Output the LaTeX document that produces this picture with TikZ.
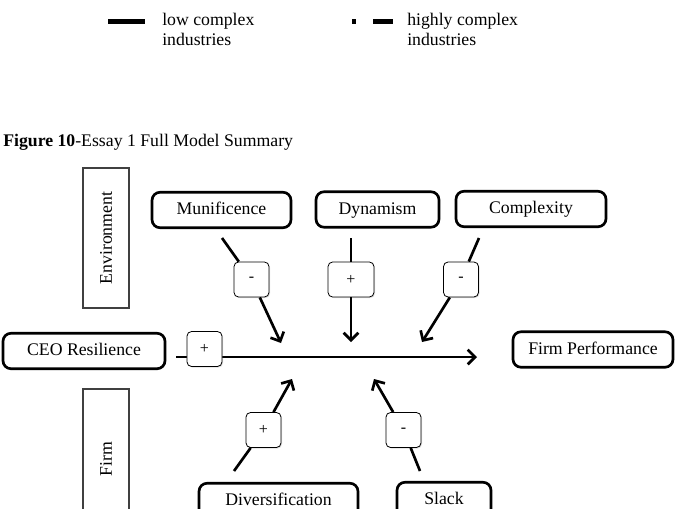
\documentclass[tikz,border=0pt]{standalone}
\usepackage{fontspec}
\setmainfont{Liberation Serif}
\usetikzlibrary{arrows.meta,positioning,shadows}
\tikzset{factor/.style={draw, line width=2pt, rounded corners=6pt, inner sep=2pt, minimum height=26.6pt, text height=0.74em, text depth=0pt}}
\tikzstyle{sgn}=[draw, line width=0.6pt, rounded corners=3.5pt, fill=white, minimum width=26.3pt, minimum height=26.3pt, inner sep=0pt, font=\fontsize{12}{14}\selectfont, drop shadow={opacity=0.25, shadow xshift=0.8pt, shadow yshift=-0.8pt}]
\tikzstyle{lvl}=[draw=black!75, line width=0.8pt, minimum width=34.5pt, minimum height=105pt, inner sep=0pt]
\tikzstyle{link}=[line width=2pt]
\tikzstyle{legtext}=[align=left, inner sep=0pt, font=\fontsize{13.3}{15}\selectfont]

\begin{document}
\begin{tikzpicture}[x=0.75pt, y=-0.75pt, >={Straight Barb[length=5.5pt,width=11pt]}, font=\fontsize{13.3}{15}\selectfont]
\clip (0,0) rectangle (678,508);

% legend
\coordinate (lowa) at (108,21.5);
\coordinate (lowb) at (145,21.5);
\draw[line width=3.6pt] (lowa) -- (lowb);
\node[legtext, anchor=base west] (lowtxt) at (162,45) {low complex\\industries};
\coordinate (higha) at (352,21.5);
\coordinate (highb) at (393,21.5);
\draw[line width=3.6pt, dash pattern=on 3pt off 12.75pt on 15pt] (higha) -- (highb);
\node[legtext, anchor=base west] (hightxt) at (407,45) {highly complex\\industries};

\node[anchor=base west, inner sep=0pt] (cap) at (3,146) {\textbf{Figure 10}-Essay 1 Full Model Summary};

% levels
\node[lvl] (env) at (106,238) {\rotatebox{90}{Environment}};
\node[lvl] (firm) at (106,459) {\rotatebox{90}{Firm}};

% factors
\node[factor, minimum width=104.2pt] (mun) at (221.5,210) {Munificence};
\node[factor, minimum width=92.2pt] (dyn) at (377.5,209.5) {Dynamism};
\node[factor, minimum width=112.5pt] (cpx) at (531,209) {Complexity};
\node[factor, minimum width=121.5pt] (ceo) at (84,351) {CEO Resilience};
\node[factor, minimum width=120pt] (perf) at (593,349.5) {Firm Performance};
\node[factor, minimum width=119.2pt] (div) at (278.5,501) {Diversification};
\node[factor, minimum width=70.5pt] (slk) at (444,500) {Slack};

% signs
\node[sgn] (smun) at (251.5,279.5) {-};
\node[sgn, minimum width=34.5pt] (sdyn) at (351,279.5) {+};
\node[sgn] (scpx) at (461,279.5) {-};
\node[sgn] (sdiv) at (263.5,430) {+};
\node[sgn] (sslk) at (403.5,430) {-};

% free ends
\coordinate (mtop) at (222,238);
\coordinate (mend) at (281,343);
\coordinate (dtop) at (351,238);
\coordinate (dend) at (351,342);
\coordinate (ctop) at (479,238);
\coordinate (cend) at (422,342);
\coordinate (dvbot) at (234,471);
\coordinate (dvend) at (292,379);
\coordinate (slbot) at (420,471);
\coordinate (slend) at (374,379);
\coordinate (rstart) at (176,357);
\coordinate (rend) at (477,357);

\draw[link] (mtop) -- (smun);
\draw[link,->] (smun) -- (mend);
\draw[link] (dtop) -- (sdyn);
\draw[link,->] (sdyn) -- (dend);
\draw[link] (ctop) -- (scpx);
\draw[link,->] (scpx) -- (cend);
\draw[link] (dvbot) -- (sdiv);
\draw[link,->] (sdiv) -- (dvend);
\draw[link] (slbot) -- (sslk);
\draw[link,->] (sslk) -- (slend);

\draw[link,->] (rstart) -- (rend);
\node[sgn] (sceo) at (204.5,349) {+};
\end{tikzpicture}
\end{document}
